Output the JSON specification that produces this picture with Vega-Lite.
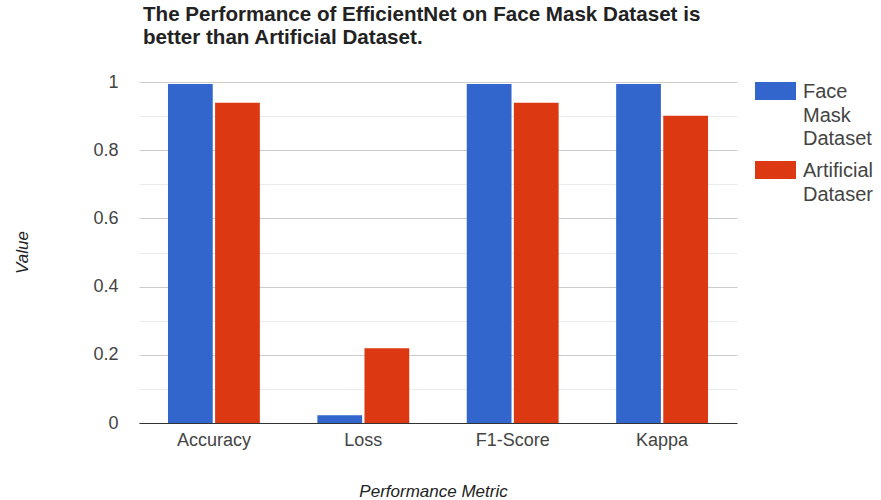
{
  "$schema": "https://vega.github.io/schema/vega-lite/v6.json",
  "width": 598,
  "height": 341,
  "autosize": {"type": "none"},
  "padding": {"left": 139, "top": 82, "right": 144, "bottom": 77},
  "background": "#ffffff",
  "title": {
    "text": ["The Performance of EfficientNet on Face Mask Dataset is", "better than Artificial Dataset."],
    "anchor": "start",
    "frame": "group",
    "orient": "top",
    "baseline": "bottom",
    "offset": 30,
    "dx": 4,
    "dy": 28,
    "font": "Liberation Sans",
    "fontSize": 20.6,
    "fontWeight": "bold",
    "lineHeight": 23,
    "color": "#222222"
  },
  "data": {
    "values": [
      {"metric": "Accuracy", "dataset": "Face Mask Dataset", "value": 0.994},
      {"metric": "Accuracy", "dataset": "Artificial Dataser", "value": 0.939},
      {"metric": "Loss", "dataset": "Face Mask Dataset", "value": 0.023},
      {"metric": "Loss", "dataset": "Artificial Dataser", "value": 0.219},
      {"metric": "F1-Score", "dataset": "Face Mask Dataset", "value": 0.994},
      {"metric": "F1-Score", "dataset": "Artificial Dataser", "value": 0.939},
      {"metric": "Kappa", "dataset": "Face Mask Dataset", "value": 0.994},
      {"metric": "Kappa", "dataset": "Artificial Dataser", "value": 0.901}
    ]
  },
  "mark": {"type": "bar"},
  "encoding": {
    "x": {
      "field": "metric",
      "type": "nominal",
      "sort": ["Accuracy", "Loss", "F1-Score", "Kappa"],
      "scale": {"paddingInner": 0.385, "paddingOuter": 0.194},
      "axis": {
        "title": "Performance Metric",
        "titleFont": "Liberation Sans",
        "titleFontSize": 17,
        "titleFontStyle": "italic",
        "titleFontWeight": "normal",
        "titleColor": "#222222",
        "titleBaseline": "alphabetic",
        "titleX": 294,
        "titleY": 73,
        "labelAngle": 0,
        "labelFont": "Liberation Sans",
        "labelFontSize": 18,
        "labelColor": "#444444",
        "labelPadding": 8,
        "ticks": false,
        "domainColor": "#333333",
        "domainWidth": 1.2,
        "grid": false
      }
    },
    "xOffset": {
      "field": "dataset",
      "type": "nominal",
      "sort": ["Face Mask Dataset", "Artificial Dataser"],
      "scale": {"paddingInner": 0.05, "paddingOuter": 0}
    },
    "y": {
      "field": "value",
      "type": "quantitative",
      "scale": {"domain": [0, 1], "nice": false, "zero": true},
      "axis": {
        "title": "Value",
        "titleFont": "Liberation Sans",
        "titleFontSize": 17,
        "titleFontStyle": "italic",
        "titleFontWeight": "normal",
        "titleColor": "#222222",
        "titleX": -117,
        "titleY": 170,
        "titleAngle": -90,
        "titleAlign": "center",
        "titleBaseline": "middle",
        "values": [0, 0.1, 0.2, 0.3, 0.4, 0.5, 0.6, 0.7, 0.8, 0.9, 1],
        "format": "~g",
        "labelExpr": "round(datum.value * 10) % 2 == 0 ? datum.label : ''",
        "labelFont": "Liberation Sans",
        "labelFontSize": 18,
        "labelColor": "#444444",
        "labelPadding": 21,
        "ticks": false,
        "domain": false,
        "gridColor": {
          "condition": {"test": "round(datum.value * 10) % 2 == 0", "value": "#cccccc"},
          "value": "#ebebeb"
        },
        "gridWidth": 1
      }
    },
    "color": {
      "field": "dataset",
      "type": "nominal",
      "sort": ["Face Mask Dataset", "Artificial Dataser"],
      "scale": {"domain": ["Face Mask Dataset", "Artificial Dataser"], "range": ["#3366cc", "#dc3912"]},
      "legend": {
        "title": null,
        "orient": "none",
        "legendX": 616,
        "legendY": -11.5,
        "padding": 0,
        "symbolType": "M-1,-0.44H1V0.44H-1Z",
        "symbolSize": 1681,
        "symbolStrokeWidth": 0,
        "symbolOpacity": 1,
        "labelExpr": "split(datum.label, ' ')",
        "labelFont": "Liberation Sans",
        "labelFontSize": 20,
        "labelColor": "#444444",
        "labelBaseline": "alphabetic",
        "labelOffset": 7,
        "labelLimit": 200,
        "rowPadding": -4,
        "encode": {
          "labels": {
            "update": {
              "dy": {"value": 7},
              "lineHeight": {"value": 23.5}
            }
          }
        }
      }
    }
  },
  "config": {
    "view": {"stroke": null},
    "font": "Liberation Sans"
  }
}
